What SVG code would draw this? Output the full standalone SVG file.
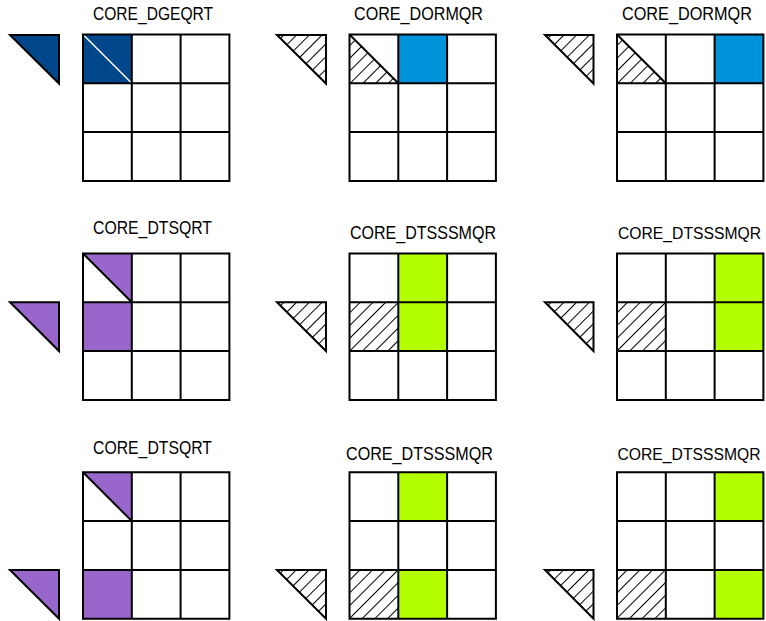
<svg xmlns="http://www.w3.org/2000/svg" width="766" height="621" viewBox="0 0 766 621">
<defs>
<pattern id="hatch" patternUnits="userSpaceOnUse" width="9" height="9" patternTransform="rotate(45)">
<line x1="0" y1="-1" x2="0" y2="10" stroke="#000" stroke-width="1.1" shape-rendering="crispEdges"/>
</pattern>
<style>
.g{fill:none;stroke:#000;stroke-width:2}
.tri{stroke:#000;stroke-width:2;stroke-linejoin:miter}
.lbl{font-family:"Liberation Sans",Arial,sans-serif;font-size:17.5px;fill:#000}
.lbs{font-size:16px}
.db{fill:#00468A}
.lb{fill:#0093DA}
.pu{fill:#9966CC}
.gr{fill:#B3FF00}
.ht{fill:url(#hatch)}
</style>
</defs>
<rect width="766" height="621" fill="#fff"/>

<!-- Row 1 -->
<g id="p-dgeqrt">
<text class="lbl" x="93" y="20" textLength="120" lengthAdjust="spacingAndGlyphs">CORE_DGEQRT</text>
<polygon class="tri db" points="10,35 59,35 59,83.5"/>
<rect class="db" x="83" y="34.5" width="48.8" height="48.8"/>
<line x1="83" y1="34.5" x2="131.8" y2="83.3" stroke="#fff" stroke-width="1.5"/>
<path class="g" d="M83,34.5h146.4v146.4h-146.4z M131.8,34.5v146.4 M180.6,34.5v146.4 M83,83.3h146.4 M83,132.1h146.4"/>
</g>
<g id="p-dormqr1">
<text class="lbl" x="354" y="20" textLength="129" lengthAdjust="spacingAndGlyphs">CORE_DORMQR</text>
<polygon class="tri ht" points="277,35 326,35 326,83.5"/>
<rect class="lb" x="398.3" y="34.5" width="48.8" height="48.8"/>
<polygon class="ht" points="349.5,34.5 349.5,83.3 398.3,83.3"/>
<line x1="349.5" y1="34.5" x2="398.3" y2="83.3" stroke="#000" stroke-width="2"/>
<path class="g" d="M349.5,34.5h146.4v146.4h-146.4z M398.3,34.5v146.4 M447.1,34.5v146.4 M349.5,83.3h146.4 M349.5,132.1h146.4"/>
</g>
<g id="p-dormqr2">
<text class="lbl" x="622" y="20" textLength="130" lengthAdjust="spacingAndGlyphs">CORE_DORMQR</text>
<polygon class="tri ht" points="545,35 593.5,35 593.5,83.5"/>
<rect class="lb" x="714.6" y="34.5" width="48.8" height="48.8"/>
<polygon class="ht" points="617,34.5 617,83.3 665.8,83.3"/>
<line x1="617" y1="34.5" x2="665.8" y2="83.3" stroke="#000" stroke-width="2"/>
<path class="g" d="M617,34.5h146.4v146.4h-146.4z M665.8,34.5v146.4 M714.6,34.5v146.4 M617,83.3h146.4 M617,132.1h146.4"/>
</g>

<!-- Row 2 -->
<g id="p-dtsqrt1">
<text class="lbl" x="93" y="233.5" textLength="119" lengthAdjust="spacingAndGlyphs">CORE_DTSQRT</text>
<polygon class="tri pu" points="10,302.3 59,302.3 59,351"/>
<polygon class="pu" points="83,253.5 131.8,253.5 131.8,302.3"/>
<rect class="pu" x="83" y="302.3" width="48.8" height="48.8"/>
<line x1="83" y1="253.5" x2="131.8" y2="302.3" stroke="#000" stroke-width="2"/>
<path class="g" d="M83,253.5h146.4v146.4h-146.4z M131.8,253.5v146.4 M180.6,253.5v146.4 M83,302.3h146.4 M83,351.1h146.4"/>
</g>
<g id="p-dtsssmqr1">
<text class="lbl" x="350" y="238.5" textLength="146" lengthAdjust="spacingAndGlyphs">CORE_DTSSSMQR</text>
<polygon class="tri ht" points="277,302.3 326,302.3 326,351"/>
<rect class="gr" x="398.3" y="253.5" width="48.8" height="97.6"/>
<rect class="ht" x="349.5" y="302.3" width="48.8" height="48.8"/>
<path class="g" d="M349.5,253.5h146.4v146.4h-146.4z M398.3,253.5v146.4 M447.1,253.5v146.4 M349.5,302.3h146.4 M349.5,351.1h146.4"/>
</g>
<g id="p-dtsssmqr2">
<text class="lbl lbs" x="618" y="238.5" textLength="143" lengthAdjust="spacingAndGlyphs">CORE_DTSSSMQR</text>
<polygon class="tri ht" points="545,302.3 593.5,302.3 593.5,351"/>
<rect class="gr" x="714.6" y="253.5" width="48.8" height="97.6"/>
<rect class="ht" x="617" y="302.3" width="48.8" height="48.8"/>
<path class="g" d="M617,253.5h146.4v146.4h-146.4z M665.8,253.5v146.4 M714.6,253.5v146.4 M617,302.3h146.4 M617,351.1h146.4"/>
</g>

<!-- Row 3 -->
<g id="p-dtsqrt2">
<text class="lbl" x="93" y="453.5" textLength="119" lengthAdjust="spacingAndGlyphs">CORE_DTSQRT</text>
<polygon class="tri pu" points="10,570 59,570 59,618.7"/>
<polygon class="pu" points="83,472.3 131.8,472.3 131.8,521.1"/>
<rect class="pu" x="83" y="569.9" width="48.8" height="48.8"/>
<line x1="83" y1="472.3" x2="131.8" y2="521.1" stroke="#000" stroke-width="2"/>
<path class="g" d="M83,472.3h146.4v146.4h-146.4z M131.8,472.3v146.4 M180.6,472.3v146.4 M83,521.1h146.4 M83,569.9h146.4"/>
</g>
<g id="p-dtsssmqr3">
<text class="lbl" x="346" y="460" textLength="147" lengthAdjust="spacingAndGlyphs">CORE_DTSSSMQR</text>
<polygon class="tri ht" points="277,570 326,570 326,618.7"/>
<rect class="gr" x="398.3" y="472.3" width="48.8" height="48.8"/>
<rect class="gr" x="398.3" y="569.9" width="48.8" height="48.8"/>
<rect class="ht" x="349.5" y="569.9" width="48.8" height="48.8"/>
<path class="g" d="M349.5,472.3h146.4v146.4h-146.4z M398.3,472.3v146.4 M447.1,472.3v146.4 M349.5,521.1h146.4 M349.5,569.9h146.4"/>
</g>
<g id="p-dtsssmqr4">
<text class="lbl lbs" x="617.5" y="460" textLength="143" lengthAdjust="spacingAndGlyphs">CORE_DTSSSMQR</text>
<polygon class="tri ht" points="545,570 593.5,570 593.5,618.7"/>
<rect class="gr" x="714.6" y="472.3" width="48.8" height="48.8"/>
<rect class="gr" x="714.6" y="569.9" width="48.8" height="48.8"/>
<rect class="ht" x="617" y="569.9" width="48.8" height="48.8"/>
<path class="g" d="M617,472.3h146.4v146.4h-146.4z M665.8,472.3v146.4 M714.6,472.3v146.4 M617,521.1h146.4 M617,569.9h146.4"/>
</g>

<g id="connectors"/>
</svg>
